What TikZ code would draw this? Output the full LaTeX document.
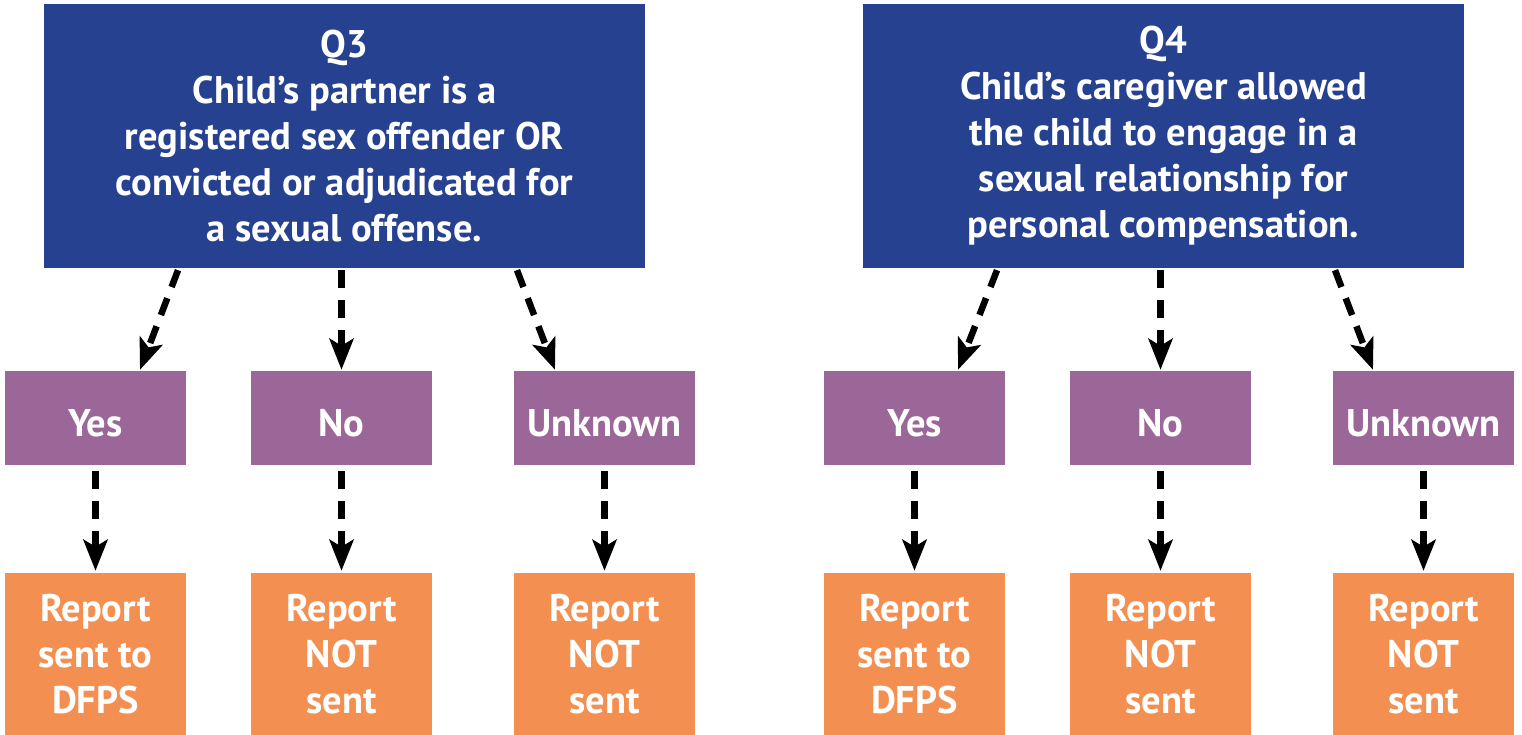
\documentclass[tikz,border=0pt]{standalone}
\usepackage{fontspec}
\setmainfont{PT Sans}
\usepackage{tikz}
\usetikzlibrary{arrows.meta,positioning}
\definecolor{qblue}{RGB}{38,65,143}
\definecolor{apurple}{RGB}{155,102,152}
\definecolor{rorange}{RGB}{244,143,82}
\tikzset{
    basic/.style    = {rectangle, inner sep=0pt, align=center, text=white, font=\fontsize{38.5}{46}\selectfont\bfseries},
    question/.style = {basic, fill=qblue, minimum width=601pt, minimum height=264pt},
    answer/.style   = {basic, fill=apurple, minimum width=181pt, minimum height=94pt, text height=36pt, text depth=0pt},
    outcome/.style  = {basic, fill=rorange, minimum width=181pt, minimum height=162pt},
    dasharrow/.style = {-{Stealth[length=31pt,width=24pt,inset=7pt]}, line width=6.5pt, dash pattern=on 18pt off 12pt}
}

\begin{document}
\begin{tikzpicture}[x=1pt,y=-1pt]
	\useasboundingbox (0,0) rectangle (1522,735);
	% questions
	\node[question] (q3) at (344.5,136) {Q3\\Child’s partner is a\\registered sex offender OR\\convicted or adjudicated for\\a sexual offense.};
	\node[question] (q4) at (1163.5,136) {Q4\\Child’s caregiver allowed\\the child to engage in a\\sexual relationship for\\personal compensation.};
	% answers
	\node[answer] (yes3) at (95.5,418) {Yes};
	\node[answer] (no3) at (341.5,418) {No};
	\node[answer] (unk3) at (604.5,418) {Unknown};
	\node[answer] (yes4) at (914.5,418) {Yes};
	\node[answer] (no4) at (1160.5,418) {No};
	\node[answer] (unk4) at (1423.5,418) {Unknown};
	% outcomes
	\node[outcome] (out3a) at (95.5,654) {Report\\sent to\\DFPS};
	\node[outcome] (out3b) at (341.5,654) {Report\\NOT\\sent};
	\node[outcome] (out3c) at (604.5,654) {Report\\NOT\\sent};
	\node[outcome] (out4a) at (914.5,654) {Report\\sent to\\DFPS};
	\node[outcome] (out4b) at (1160.5,654) {Report\\NOT\\sent};
	\node[outcome] (out4c) at (1423.5,654) {Report\\NOT\\sent};

	\draw[dasharrow] ([xshift=-166.5pt,yshift=-2pt]q3.south) -- ([xshift=44.5pt,yshift=1pt]yes3.north);
	\draw[dasharrow] ([xshift=-3pt,yshift=-2pt]q3.south) -- ([yshift=1pt]no3.north);
	\draw[dasharrow] ([xshift=172.5pt,yshift=-2pt]q3.south) -- ([xshift=-49.5pt,yshift=1pt]unk3.north);
	\draw[dasharrow] ([xshift=-166.5pt,yshift=-2pt]q4.south) -- ([xshift=43.5pt,yshift=1pt]yes4.north);
	\draw[dasharrow] ([xshift=-3pt,yshift=-2pt]q4.south) -- ([yshift=1pt]no4.north);
	\draw[dasharrow] ([xshift=171.5pt,yshift=-2pt]q4.south) -- ([xshift=-50.5pt,yshift=1pt]unk4.north);

	\foreach \a/\b in {yes3/out3a, no3/out3b, unk3/out3c, yes4/out4a, no4/out4b, unk4/out4c}
		\draw[dasharrow] ([yshift=-6pt]\a.south) -- ([yshift=2pt]\b.north);
\end{tikzpicture}
\end{document}
